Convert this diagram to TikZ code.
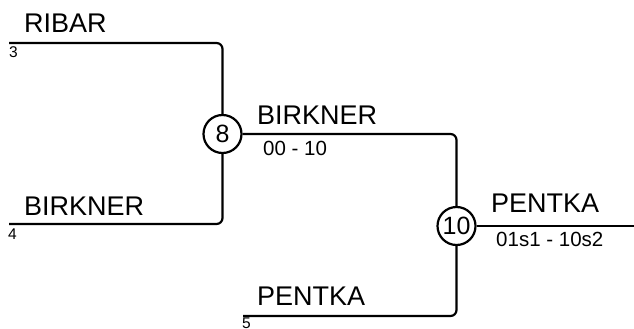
\documentclass[tikz,border=0pt]{standalone}
\usepackage{fontspec}
\setmainfont{Liberation Sans}
\begin{document}
\begin{tikzpicture}[x=1pt,y=-1pt,
  wire/.style={line width=2.2pt,rounded corners=6pt},
  match/.style={circle,draw,line width=2.2pt,minimum size=38pt,inner sep=0pt,font=\fontsize{25}{25}\selectfont},
  player/.style={anchor=base west,inner sep=0pt,font=\fontsize{27}{27}\selectfont},
  score/.style={anchor=base west,inner sep=0pt,font=\fontsize{20.5}{20.5}\selectfont},
  seed/.style={anchor=base west,inner sep=0pt,font=\fontsize{15.5}{15.5}\selectfont}]
\useasboundingbox (0,0) rectangle (634,329);
% matches
\node[match] (m8) at (222.5,134) {8};
\node[match] (m10) at (456.5,226) {10};
% line ends
\coordinate (s3) at (9,43);
\coordinate (s4) at (9,224);
\coordinate (s5) at (243,316);
\coordinate (win) at (634,226);
% wires
\draw[wire] (s3) -| (m8);
\draw[wire] (s4) -| (m8);
\draw[wire] (m8.east) -| (m10);
\draw[wire] (s5) -| (m10);
\draw[wire] (m10.east) -- (win);
% labels
\node[player] (t1) at (24,33) {RIBAR};
\node[seed] (n3) at (9,58) {3};
\node[player] (t2) at (24,215) {BIRKNER};
\node[seed] (n4) at (8,239) {4};
\node[player] (t3) at (257,124) {BIRKNER};
\node[score] (r8) at (263,155) {00 - 10};
\node[player] (t4) at (491,212) {PENTKA};
\node[score] (r10) at (496,246) {01s1 - 10s2};
\node[player] (t5) at (257,305) {PENTKA};
\node[seed] (n5) at (242,328.3) {5};
\end{tikzpicture}
\end{document}
